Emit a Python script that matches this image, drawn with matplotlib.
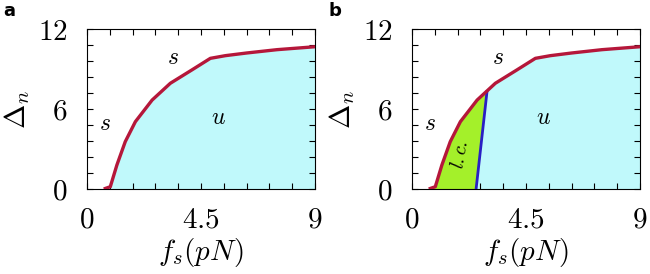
import numpy as np
import matplotlib.pyplot as plt
from matplotlib.ticker import MultipleLocator

plt.rcParams['mathtext.fontset'] = 'cm'
plt.rcParams['font.family'] = 'serif'
plt.rcParams['font.serif'] = ['DejaVu Serif']

# boundary curve (red)
fs_curve = [0.66, 0.92, 1.18, 1.51, 1.91, 2.57, 3.29, 4.14, 4.87, 5.46, 6.3, 7.5, 9.0]
dn_curve = [0.0, 0.17, 1.8, 3.55, 5.05, 6.67, 7.93, 8.93, 9.8, 10.0, 10.2, 10.45, 10.67]

# limit-cycle boundary (blue), panel b
fs_lc = [2.53, 2.96]
dn_lc = [0.0, 7.3]

red = '#b5173a'
cyan = '#c0f9fb'
green = '#a4f02a'
blue = '#2a1fc4'

fig = plt.figure(figsize=(6.5, 2.74), dpi=100)
ax_a = fig.add_axes([87 / 650, 1 - 189 / 274, 228 / 650, 160 / 274])
ax_b = fig.add_axes([412 / 650, 1 - 189 / 274, 228 / 650, 160 / 274])

fc = np.array(fs_curve)
dc = np.array(dn_curve)

for ax, lab in [(ax_a, 'a'), (ax_b, 'b')]:
    ax.fill_between(fc, 0, dc, color=cyan, lw=0, zorder=1)
    if lab == 'b':
        # green region between red curve and blue line
        xs = np.linspace(fc[0], fs_lc[1], 80)
        top = np.interp(xs, fc, dc)
        bot = np.where(xs < fs_lc[0], 0, np.interp(xs, fs_lc, dn_lc))
        ax.fill_between(xs, bot, top, where=top >= bot, color=green, lw=0, zorder=2)
        ax.plot(fs_lc, dn_lc, color=blue, lw=2, zorder=3)
        ax.text(1.9, 2.55, r'$l.c.$', fontsize=14, rotation=80,
                ha='center', va='center', zorder=4)
    ax.plot(fc, dc, color=red, lw=2.4, zorder=4, solid_capstyle='butt',
            solid_joinstyle='round')

    ax.set_xlim(0, 9)
    ax.set_ylim(0, 12)
    ax.set_xticks([0, 4.5, 9])
    ax.set_xticklabels([r'$0$', r'$4.5$', r'$9$'])
    ax.set_yticks([0, 6, 12])
    ax.set_yticklabels([r'$0$', r'$6$', r'$12$'])
    ax.xaxis.set_minor_locator(MultipleLocator(0.9))
    ax.yaxis.set_minor_locator(MultipleLocator(1.2))
    ax.tick_params(which='both', direction='in', top=True, right=True,
                   width=0.8, length=4)
    ax.tick_params(axis='x', labelsize=21, pad=12)
    ax.tick_params(axis='y', labelsize=21, pad=14)
    for sp in ax.spines.values():
        sp.set_linewidth(0.8)
    ax.set_xlabel(r'$f_s(pN)$', fontsize=21, labelpad=2)
    ax.set_ylabel(r'$\Delta_n$', fontsize=21, labelpad=4)

    ax.text(3.4, 9.9, r'$s$', fontsize=17, ha='center', va='center', zorder=5)
    ax.text(0.72, 4.9, r'$s$', fontsize=17, ha='center', va='center', zorder=5)
    ax.text(5.2, 5.4, r'$u$', fontsize=17, ha='center', va='center', zorder=5)

fig.text(3 / 650, 1 - 2 / 274, 'a', fontsize=13, fontweight='bold',
         family='DejaVu Sans', va='top', ha='left')
fig.text(329 / 650, 1 - 2 / 274, 'b', fontsize=13, fontweight='bold',
         family='DejaVu Sans', va='top', ha='left')

fig.savefig('out.png', dpi=100)
